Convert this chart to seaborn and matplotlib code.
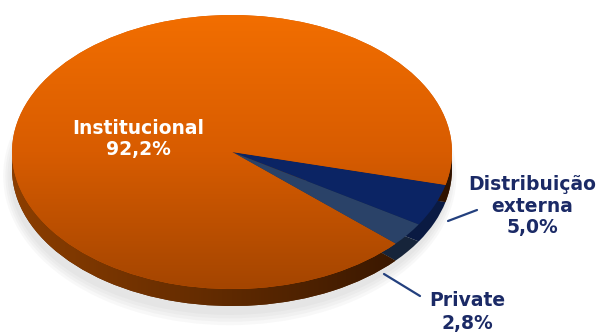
import numpy as np
import matplotlib
matplotlib.use("Agg")
import matplotlib.pyplot as plt
import seaborn as sns
from matplotlib.colors import LinearSegmentedColormap
from matplotlib.patches import Ellipse

sns.set_theme(style="white")
plt.rcParams["font.family"] = ["DejaVu Sans"]

# ---- data ----
categories = ["Institucional", "Distribuição externa", "Private"]
shares = [92.2, 5.0, 2.8]
label_texts = ["Institucional\n92,2%", "Distribuição\nexterna\n5,0%", "Private\n2,8%"]

top_colors = ["#D35A00", "#0B2464", "#2A4268"]
side_colors = ["#5A2700", "#0A1A42", "#16243A"]

W, H = 597, 332
fig = plt.figure(figsize=(W / 100, H / 100), dpi=100)
ax = fig.add_axes([0, 0, 1, 1])

cx, cy, rx, ry = 232, 152, 220, 137
depth = 17 / ry
start = -42


def P(x, y):
    return (x - cx) / rx, (cy - y) / ry


# soft shadow (mostly toward the bottom)
for i in range(4):
    e = Ellipse((-0.01, -depth - 0.05), 1.98 + 0.02 * (4 - i), 1.98 + 0.05 * (4 - i),
                facecolor="#666666", alpha=0.045, linewidth=0, zorder=0)
    ax.add_patch(e)

side, _ = ax.pie(shares, startangle=start, counterclock=False, center=(0, -depth),
                 colors=side_colors, wedgeprops=dict(linewidth=0))
for w in side:
    w.set_zorder(1)

top, _ = ax.pie(shares, startangle=start, counterclock=False,
                colors=top_colors, wedgeprops=dict(linewidth=0))
for w in top:
    w.set_zorder(3)

# gradient on orange side
side_cmap = LinearSegmentedColormap.from_list("side", ["#8C3E00", "#5E2900", "#2E1200"])
hgrad = np.linspace(0, 1, 256).reshape(1, -1)
im_s = ax.imshow(hgrad, extent=(-1, 1, -1 - depth, 1 - depth), cmap=side_cmap,
                 aspect="auto", zorder=2)
im_s.set_clip_path(side[0])

# gradient on orange top
top_cmap = LinearSegmentedColormap.from_list("top", ["#F26E00", "#D85C00", "#A44500"])
vgrad = np.linspace(0, 1, 256).reshape(-1, 1)
im_t = ax.imshow(vgrad, extent=(-1, 1, -1, 1), origin="upper", cmap=top_cmap,
                 aspect="auto", zorder=4)
im_t.set_clip_path(top[0])

ax.set_aspect("auto")
ax.set_xlim(-cx / rx, (W - cx) / rx)
ax.set_ylim(-(H - cy) / ry, cy / ry)
ax.axis("off")

# leader lines
line_col = "#23407E"
for (x0, y0), (x1, y1) in [((448, 221), (477, 210)), ((384, 274), (420, 296))]:
    (a0, b0), (a1, b1) = P(x0, y0), P(x1, y1)
    ax.plot([a0, a1], [b0, b1], color=line_col, lw=1.6, zorder=6)

# labels
txt_col = "#1B2A66"
label_pos = [(138, 139), (532, 206), (467, 312)]
label_cols = ["white", txt_col, txt_col]
for t, (x, y), c in zip(label_texts, label_pos, label_cols):
    ax.text(*P(x, y), t, ha="center", va="center", color=c, fontsize=13.5,
            fontweight="bold", linespacing=1.2, zorder=7)

fig.savefig("out.png", dpi=100)
